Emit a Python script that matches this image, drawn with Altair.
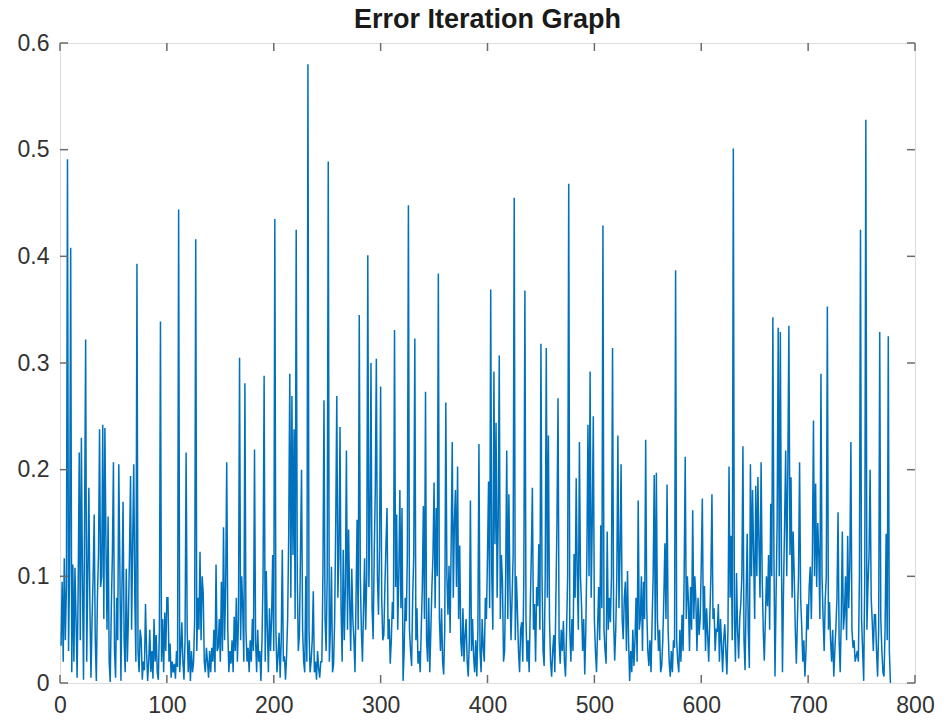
import altair as alt
import pandas as pd

# Error value recorded at each training iteration (iterations 1..777)
error = [
    0.035, 0.095, 0.020, 0.117, 0.040, 0.090, 0.491, 0.030, 0.110, 0.408,
    0.010, 0.111, 0.020, 0.108, 0.060, 0.005, 0.090, 0.216, 0.040, 0.230,
    0.100, 0.003, 0.150, 0.322, 0.020, 0.100, 0.183, 0.070, 0.005, 0.060,
    0.100, 0.158, 0.040, 0.002, 0.080, 0.120, 0.238, 0.090, 0.100, 0.242,
    0.060, 0.239, 0.130, 0.050, 0.156, 0.020, 0.001, 0.070, 0.120, 0.207,
    0.030, 0.005, 0.080, 0.040, 0.205, 0.110, 0.002, 0.090, 0.170, 0.040,
    0.010, 0.107, 0.020, 0.060, 0.120, 0.194, 0.050, 0.130, 0.205, 0.080,
    0.020, 0.393, 0.030, 0.010, 0.050, 0.041, 0.003, 0.020, 0.012, 0.074,
    0.030, 0.002, 0.020, 0.050, 0.010, 0.030, 0.004, 0.060, 0.020, 0.045,
    0.010, 0.003, 0.050, 0.339, 0.020, 0.060, 0.010, 0.066, 0.030, 0.080,
    0.080, 0.020, 0.037, 0.005, 0.020, 0.010, 0.018, 0.004, 0.030, 0.015,
    0.444, 0.010, 0.030, 0.057, 0.020, 0.003, 0.040, 0.216, 0.050, 0.010,
    0.040, 0.002, 0.030, 0.010, 0.020, 0.060, 0.416, 0.030, 0.080, 0.050,
    0.123, 0.040, 0.100, 0.084, 0.020, 0.010, 0.033, 0.020, 0.005, 0.030,
    0.010, 0.033, 0.020, 0.050, 0.010, 0.111, 0.030, 0.033, 0.060, 0.020,
    0.095, 0.030, 0.146, 0.040, 0.090, 0.207, 0.050, 0.010, 0.030, 0.018,
    0.040, 0.010, 0.062, 0.030, 0.080, 0.020, 0.060, 0.305, 0.040, 0.100,
    0.070, 0.020, 0.281, 0.050, 0.020, 0.033, 0.010, 0.040, 0.020, 0.060,
    0.030, 0.219, 0.040, 0.010, 0.050, 0.020, 0.030, 0.002, 0.040, 0.100,
    0.288, 0.020, 0.105, 0.050, 0.010, 0.070, 0.030, 0.062, 0.120, 0.030,
    0.435, 0.050, 0.010, 0.025, 0.047, 0.005, 0.040, 0.125, 0.020, 0.025,
    0.003, 0.025, 0.060, 0.140, 0.290, 0.080, 0.269, 0.120, 0.238, 0.060,
    0.425, 0.100, 0.030, 0.045, 0.120, 0.200, 0.050, 0.020, 0.010, 0.100,
    0.020, 0.580, 0.050, 0.010, 0.021, 0.040, 0.086, 0.010, 0.020, 0.003,
    0.030, 0.014, 0.005, 0.020, 0.020, 0.100, 0.265, 0.060, 0.030, 0.100,
    0.489, 0.020, 0.050, 0.109, 0.010, 0.018, 0.060, 0.150, 0.269, 0.080,
    0.120, 0.240, 0.070, 0.020, 0.125, 0.040, 0.090, 0.218, 0.050, 0.144,
    0.080, 0.030, 0.107, 0.060, 0.041, 0.010, 0.080, 0.153, 0.050, 0.345,
    0.100, 0.049, 0.020, 0.070, 0.117, 0.050, 0.100, 0.401, 0.090, 0.150,
    0.300, 0.070, 0.041, 0.120, 0.180, 0.304, 0.100, 0.064, 0.130, 0.278,
    0.080, 0.040, 0.045, 0.090, 0.130, 0.164, 0.041, 0.060, 0.018, 0.040,
    0.076, 0.060, 0.331, 0.090, 0.158, 0.050, 0.100, 0.181, 0.070, 0.164,
    0.002, 0.030, 0.080, 0.058, 0.120, 0.448, 0.050, 0.030, 0.016, 0.080,
    0.120, 0.323, 0.040, 0.070, 0.018, 0.030, 0.010, 0.050, 0.090, 0.166,
    0.060, 0.273, 0.040, 0.020, 0.080, 0.010, 0.050, 0.090, 0.120, 0.188,
    0.070, 0.164, 0.100, 0.384, 0.060, 0.030, 0.070, 0.020, 0.008, 0.050,
    0.263, 0.100, 0.064, 0.110, 0.047, 0.130, 0.226, 0.080, 0.150, 0.181,
    0.090, 0.203, 0.060, 0.129, 0.040, 0.025, 0.070, 0.020, 0.045, 0.060,
    0.020, 0.006, 0.040, 0.171, 0.030, 0.060, 0.025, 0.010, 0.040, 0.006,
    0.050, 0.224, 0.030, 0.010, 0.060, 0.033, 0.020, 0.080, 0.060, 0.120,
    0.189, 0.070, 0.369, 0.100, 0.050, 0.292, 0.130, 0.244, 0.080, 0.150,
    0.307, 0.060, 0.120, 0.095, 0.020, 0.030, 0.100, 0.218, 0.060, 0.177,
    0.090, 0.040, 0.080, 0.120, 0.455, 0.040, 0.100, 0.068, 0.030, 0.010,
    0.050, 0.057, 0.020, 0.100, 0.368, 0.060, 0.020, 0.040, 0.010, 0.070,
    0.120, 0.183, 0.050, 0.074, 0.020, 0.090, 0.072, 0.130, 0.050, 0.318,
    0.100, 0.030, 0.016, 0.100, 0.314, 0.080, 0.232, 0.060, 0.020, 0.006,
    0.030, 0.045, 0.010, 0.080, 0.150, 0.267, 0.040, 0.018, 0.050, 0.030,
    0.058, 0.020, 0.006, 0.050, 0.100, 0.468, 0.050, 0.020, 0.060, 0.030,
    0.121, 0.080, 0.192, 0.100, 0.050, 0.226, 0.100, 0.072, 0.030, 0.060,
    0.008, 0.050, 0.120, 0.242, 0.100, 0.292, 0.080, 0.150, 0.250, 0.060,
    0.030, 0.010, 0.050, 0.090, 0.040, 0.148, 0.070, 0.429, 0.050, 0.030,
    0.018, 0.142, 0.050, 0.080, 0.057, 0.100, 0.314, 0.060, 0.021, 0.050,
    0.100, 0.232, 0.070, 0.120, 0.205, 0.060, 0.041, 0.080, 0.095, 0.030,
    0.105, 0.040, 0.002, 0.030, 0.010, 0.050, 0.016, 0.040, 0.080, 0.020,
    0.171, 0.050, 0.060, 0.100, 0.030, 0.095, 0.060, 0.228, 0.070, 0.030,
    0.016, 0.040, 0.010, 0.057, 0.100, 0.195, 0.040, 0.197, 0.060, 0.030,
    0.050, 0.010, 0.016, 0.040, 0.080, 0.131, 0.060, 0.186, 0.050, 0.020,
    0.006, 0.030, 0.010, 0.040, 0.033, 0.387, 0.040, 0.020, 0.010, 0.050,
    0.020, 0.064, 0.030, 0.100, 0.212, 0.060, 0.100, 0.076, 0.030, 0.090,
    0.050, 0.162, 0.060, 0.100, 0.076, 0.030, 0.080, 0.045, 0.060, 0.110,
    0.173, 0.050, 0.091, 0.030, 0.070, 0.045, 0.020, 0.060, 0.100, 0.177,
    0.060, 0.070, 0.030, 0.050, 0.049, 0.074, 0.020, 0.060, 0.037, 0.010,
    0.040, 0.055, 0.030, 0.008, 0.050, 0.203, 0.080, 0.138, 0.040, 0.501,
    0.060, 0.020, 0.103, 0.050, 0.023, 0.060, 0.074, 0.100, 0.222, 0.040,
    0.012, 0.080, 0.140, 0.050, 0.014, 0.205, 0.100, 0.181, 0.120, 0.060,
    0.185, 0.100, 0.193, 0.130, 0.080, 0.207, 0.100, 0.050, 0.021, 0.060,
    0.100, 0.072, 0.120, 0.050, 0.168, 0.100, 0.343, 0.120, 0.006, 0.080,
    0.150, 0.333, 0.100, 0.329, 0.120, 0.010, 0.090, 0.150, 0.218, 0.100,
    0.200, 0.335, 0.120, 0.193, 0.080, 0.142, 0.100, 0.050, 0.018, 0.060,
    0.100, 0.207, 0.080, 0.053, 0.020, 0.040, 0.006, 0.030, 0.074, 0.050,
    0.090, 0.109, 0.060, 0.120, 0.246, 0.100, 0.187, 0.090, 0.150, 0.120,
    0.060, 0.290, 0.100, 0.062, 0.030, 0.078, 0.100, 0.353, 0.050, 0.076,
    0.040, 0.020, 0.050, 0.006, 0.030, 0.053, 0.080, 0.160, 0.040, 0.010,
    0.060, 0.142, 0.050, 0.064, 0.100, 0.040, 0.138, 0.070, 0.110, 0.226,
    0.050, 0.033, 0.040, 0.020, 0.025, 0.030, 0.020, 0.100, 0.425, 0.060,
    0.030, 0.002, 0.100, 0.528, 0.050, 0.092, 0.120, 0.200, 0.080, 0.057,
    0.030, 0.064, 0.064, 0.030, 0.006, 0.050, 0.329, 0.060, 0.030, 0.010,
    0.006, 0.050, 0.140, 0.040, 0.325, 0.030, 0.000,
]
iteration = list(range(1, len(error) + 1))

x_ticks = [0, 100, 200, 300, 400, 500, 600, 700, 800]
y_ticks = [0, 0.1, 0.2, 0.3, 0.4, 0.5, 0.6]

W, H = 855, 640
FONT = "Liberation Sans"
FRAME = "#6b6b6b"
TICK_LEN = 8

df = pd.DataFrame({"iteration": iteration, "error": error})
xt = pd.DataFrame({"t": x_ticks})
yt = pd.DataFrame({"t": y_ticks})

x_scale = alt.Scale(domain=[0, 800], nice=False, zero=False)
y_scale = alt.Scale(domain=[0, 0.6], nice=False)

axis_common = dict(
    title=None, domain=False, ticks=False, grid=False,
    labelFont=FONT, labelFontSize=23, labelColor="#333333", labelFlush=False,
)
x_axis = alt.Axis(values=x_ticks, format="d", labelPadding=11, **axis_common)
y_axis = alt.Axis(values=y_ticks, format="~g", labelPadding=11, **axis_common)

line = alt.Chart(df).mark_line(color="#0072BD", strokeWidth=1.5).encode(
    x=alt.X("iteration:Q", scale=x_scale, axis=x_axis),
    y=alt.Y("error:Q", scale=y_scale, axis=y_axis),
)

# inward-pointing tick marks on all four sides of the box
tick_style = dict(color=FRAME, strokeWidth=1.5)
x_bottom = alt.Chart(xt).mark_rule(**tick_style).encode(
    x=alt.X("t:Q", scale=x_scale, axis=x_axis),
    y=alt.value(H), y2=alt.value(H - TICK_LEN),
)
x_top = alt.Chart(xt).mark_rule(**tick_style).encode(
    x=alt.X("t:Q", scale=x_scale, axis=x_axis),
    y=alt.value(0), y2=alt.value(TICK_LEN),
)
y_left = alt.Chart(yt).mark_rule(**tick_style).encode(
    y=alt.Y("t:Q", scale=y_scale, axis=y_axis),
    x=alt.value(0), x2=alt.value(TICK_LEN),
)
y_right = alt.Chart(yt).mark_rule(**tick_style).encode(
    y=alt.Y("t:Q", scale=y_scale, axis=y_axis),
    x=alt.value(W), x2=alt.value(W - TICK_LEN),
)

chart = alt.layer(line, x_bottom, x_top, y_left, y_right).properties(
    width=W,
    height=H,
    title=alt.TitleParams(
        "Error Iteration Graph", font=FONT, fontSize=27, fontWeight="bold",
        color="#1a1a1a", offset=-2, anchor="middle",
    ),
    autosize=alt.AutoSizeParams(type="none"),
    padding={"left": 60, "top": 43, "right": 35, "bottom": 43},
).configure_view(
    stroke=FRAME, strokeWidth=2
).configure(background="white")

chart.save("out.html", embed_options={"renderer": "svg", "actions": False})
